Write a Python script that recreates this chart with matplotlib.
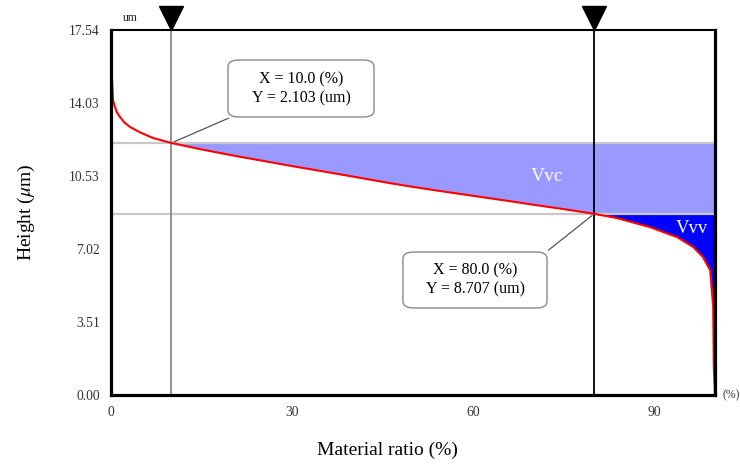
import numpy as np
import matplotlib
matplotlib.use("Agg")
import matplotlib.pyplot as plt
from matplotlib.patches import FancyBboxPatch
from matplotlib import transforms

plt.rcParams["font.family"] = ["Liberation Serif", "DejaVu Serif"]
plt.rcParams["mathtext.fontset"] = "stix"

# Areal material ratio curve (Abbott-Firestone)
material_ratio = [0.0, 0.1, 0.33, 0.66, 0.95, 1.49, 2.2, 3.15, 4.8, 6.95, 10.0, 15.0, 20.0,
                  25.0, 30.0, 35.0, 40.0, 46.2, 50.0, 55.0, 60.0, 66.6, 70.0,
                  75.0, 80.0, 83.8, 89.2, 93.7, 96.4, 98.0, 99.2, 99.7, 99.8, 100.0]
height = [17.54, 15.6, 14.17, 13.84, 13.6, 13.36, 13.1, 12.88, 12.62, 12.35, 12.11, 11.80, 11.52,
          11.26, 11.00, 10.75, 10.50, 10.18, 10.00, 9.78, 9.57, 9.29, 9.14,
          8.93, 8.707, 8.50, 8.07, 7.59, 7.11, 6.63, 6.00, 4.23, 1.35, 0.0]

# cursor positions and the level each cursor reads off the curve
cursor_x = [10.0, 80.0]
cursor_level = [12.11, 8.707]
cursor_text = ["X = 10.0 (%)\nY = 2.103 (um)", "X = 80.0 (%)\nY = 8.707 (um)"]

y_ticks = [0.00, 3.51, 7.02, 10.53, 14.03, 17.54]
x_ticks = [0, 30, 60, 90]

x = np.array(material_ratio)
h = np.array(height)
upper, lower = cursor_level

fig = plt.figure(figsize=(7.4, 4.65), dpi=100)
W, H = 740, 465
L, R, T, B = 111, 715, 30, 395
ax = fig.add_axes([L / W, (H - B) / H, (R - L) / W, (B - T) / H])
ax.set_xlim(0, 100)
ax.set_ylim(0, 17.54)

# void volumes
m = x >= cursor_x[0]
ax.fill_between(x[m], np.maximum(h[m], lower), upper, color="#9999ff", lw=0, zorder=1)
m2 = x >= cursor_x[1]
ax.fill_between(x[m2], h[m2], lower, color="#0000ff", lw=0, zorder=1)

# cursor lines
ax.axhline(upper, color="#c8c8c8", lw=1.6, zorder=2)
ax.axhline(lower, color="#c8c8c8", lw=1.6, zorder=2)
ax.axvline(cursor_x[0], color="#8a8a8a", lw=1.3, zorder=2)
ax.axvline(cursor_x[1], color="#000000", lw=1.3, zorder=2)

ax.plot(x, h, color="#ff0000", lw=1.5, zorder=3, solid_joinstyle="round")

# cursor markers above the frame
trans = transforms.offset_copy(ax.get_xaxis_transform(), fig=fig, x=0, y=8.4, units="points")
for cx in cursor_x:
    ax.plot([cx], [1.0], marker="v", markersize=17, color="black",
            transform=trans, clip_on=False, zorder=6)

um_trans = transforms.offset_copy(ax.get_xaxis_transform(), fig=fig, x=0, y=4, units="points")
ax.text(3.2, 1.0, "um", transform=um_trans, fontsize=8.5, color="#222222",
        ha="center", va="bottom")

# callout boxes
boxes = [(0.1937, 0.7616, 0.2417, 0.1562), (0.4834, 0.2384, 0.2385, 0.1534)]
anchors = [(0.199, 0.7616), (0.7205, 0.3918)]
for (bx, by, bw, bh), (axx, axy), cx, cy, txt in zip(boxes, anchors, cursor_x,
                                                       cursor_level, cursor_text):
    ax.add_patch(FancyBboxPatch((bx, by), bw, bh, boxstyle="round,pad=0,rounding_size=0.018",
                                transform=ax.transAxes, facecolor="white",
                                edgecolor="#8a8a8a", lw=1.0, zorder=5))
    ax.text(bx + bw / 2, by + bh / 2, txt, transform=ax.transAxes, ha="center",
            va="center", fontsize=11.5, linespacing=1.25, zorder=6)
    ax.annotate("", xy=(cx, cy), xytext=(axx, axy), textcoords="axes fraction",
                arrowprops=dict(arrowstyle="-", color="#555555", lw=0.9), zorder=4)

ax.text(72.2, 10.5, "Vvc", color="white", fontsize=14, ha="center", va="center", zorder=4)
ax.text(96.2, 8.0, "Vvv", color="white", fontsize=13.5, ha="center", va="center", zorder=4)

# axes frame
for side, lw in [("left", 2.3), ("bottom", 2.3), ("right", 2.3), ("top", 1.5)]:
    ax.spines[side].set_linewidth(lw)
    ax.spines[side].set_color("black")
    ax.spines[side].set_zorder(7)

ax.set_yticks(y_ticks)
ax.set_yticklabels([f"{v:.2f}" for v in y_ticks])
ax.set_xticks(x_ticks)
ax.set_xticklabels([str(v) for v in x_ticks])
ax.tick_params(length=0, labelsize=9.8, labelcolor="#333333")
ax.tick_params(axis="y", pad=8)
ax.tick_params(axis="x", pad=8)

ax.text(1.012, 0.0, "(%)", transform=ax.transAxes, fontsize=8.5, color="#333333",
        ha="left", va="center")

ax.set_xlabel("Material ratio (%)", fontsize=14)
ax.xaxis.set_label_coords(0.457, -0.128)
ax.set_ylabel(r"Height ($\mu$m)", fontsize=14, labelpad=23)

fig.savefig("out.png", dpi=100)
